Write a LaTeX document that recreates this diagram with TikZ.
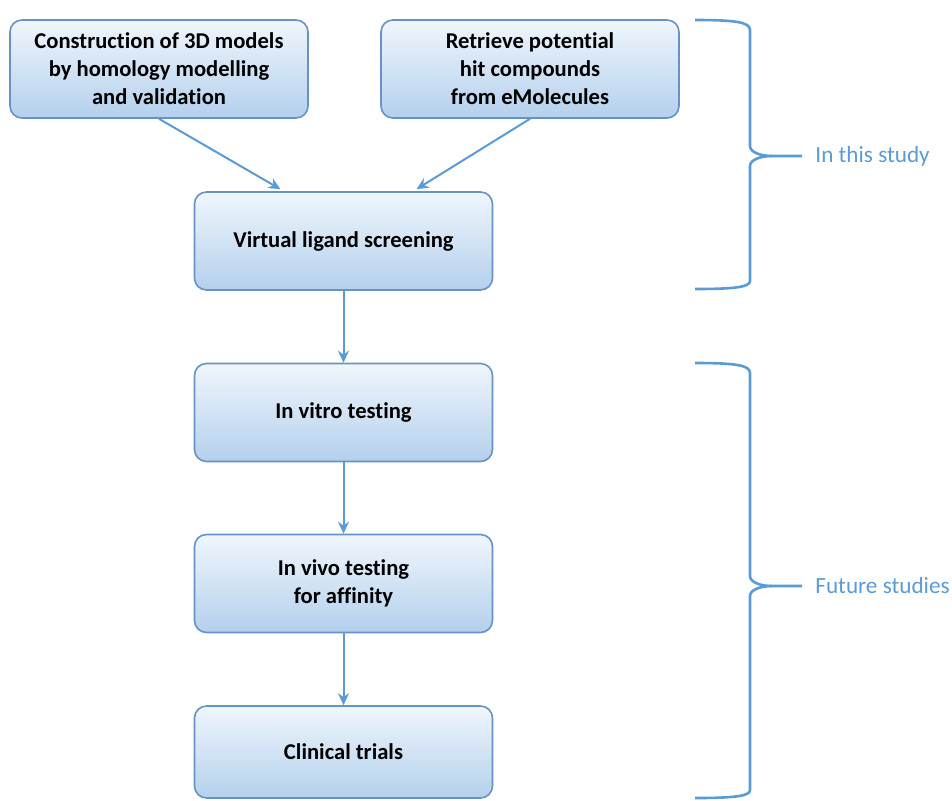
\documentclass[tikz,border=0pt]{standalone}
\usepackage{fontspec}
\setmainfont{Carlito}[Ligatures=NoCommon]
\usetikzlibrary{calc,arrows.meta}
\tikzset{>={Stealth[length=6pt,width=5.5pt]}}

\definecolor{boxline}{RGB}{104,146,196}
\definecolor{boxtop}{RGB}{240,246,252}
\definecolor{boxbottom}{RGB}{180,208,237}
\definecolor{flowblue}{RGB}{91,155,213}

\tikzset{
  stage/.style={draw=boxline,line width=0.8pt,rounded corners=6pt,
    top color=boxtop,bottom color=boxbottom,
    minimum width=149pt,minimum height=49pt,align=center,
    font=\bfseries\fontsize{11.3}{14}\selectfont},
  flow/.style={->,flowblue,line width=1pt},
  brace/.style={flowblue,line width=1.3pt},
  bracelabel/.style={flowblue,anchor=west,inner sep=0pt,
    font=\fontsize{11.6}{13}\selectfont},
}

\begin{document}
\begin{tikzpicture}[x=0.5pt,y=-0.5pt]
  \useasboundingbox (0,0) rectangle (952,800);

  % work flow
  \node[stage] (model) at (159,69) {Construction of 3D models\\by homology modelling\\and validation};
  \node[stage] (hits) at (530,69) {Retrieve potential\\hit compounds\\from eMolecules};
  \node[stage] (screen) at (343.5,241) {Virtual ligand screening};
  \node[stage] (vitro) at (343.5,412.5) {In vitro testing};
  \node[stage] (vivo) at (343.5,583.5) {In vivo testing\\for affinity};
  \node[stage,minimum height=46pt] (clinic) at (343.5,752) {Clinical trials};

  \draw[flow] (model.south) -- ($(screen.north)+(-63,-2)$);
  \draw[flow] (hits.south) -- ($(screen.north)+(73,-2)$);
  \draw[flow] (screen) -- (vitro);
  \draw[flow] (vitro) -- (vivo);
  \draw[flow] (vivo) -- (clinic);

  % braces on the right
  \draw[brace] (695,20) .. controls (735,20) and (750,22) .. (750,30)
    -- (750,146) .. controls (750,152) and (760,156) .. (772,156) -- (802,156);
  \draw[brace] (772,156) .. controls (760,156) and (750,160) .. (750,166)
    -- (750,281) .. controls (750,287) and (735,289) .. (695,289);
  \node[bracelabel] (study) at (815,156) {In this study};

  \draw[brace] (695,363) .. controls (735,363) and (750,365) .. (750,373)
    -- (750,576) .. controls (750,582) and (760,586) .. (772,586) -- (802,586);
  \draw[brace] (772,586) .. controls (760,586) and (750,590) .. (750,596)
    -- (750,790) .. controls (750,796) and (735,798) .. (695,798);
  \node[bracelabel] (future) at (815,586) {Future studies};
\end{tikzpicture}
\end{document}
